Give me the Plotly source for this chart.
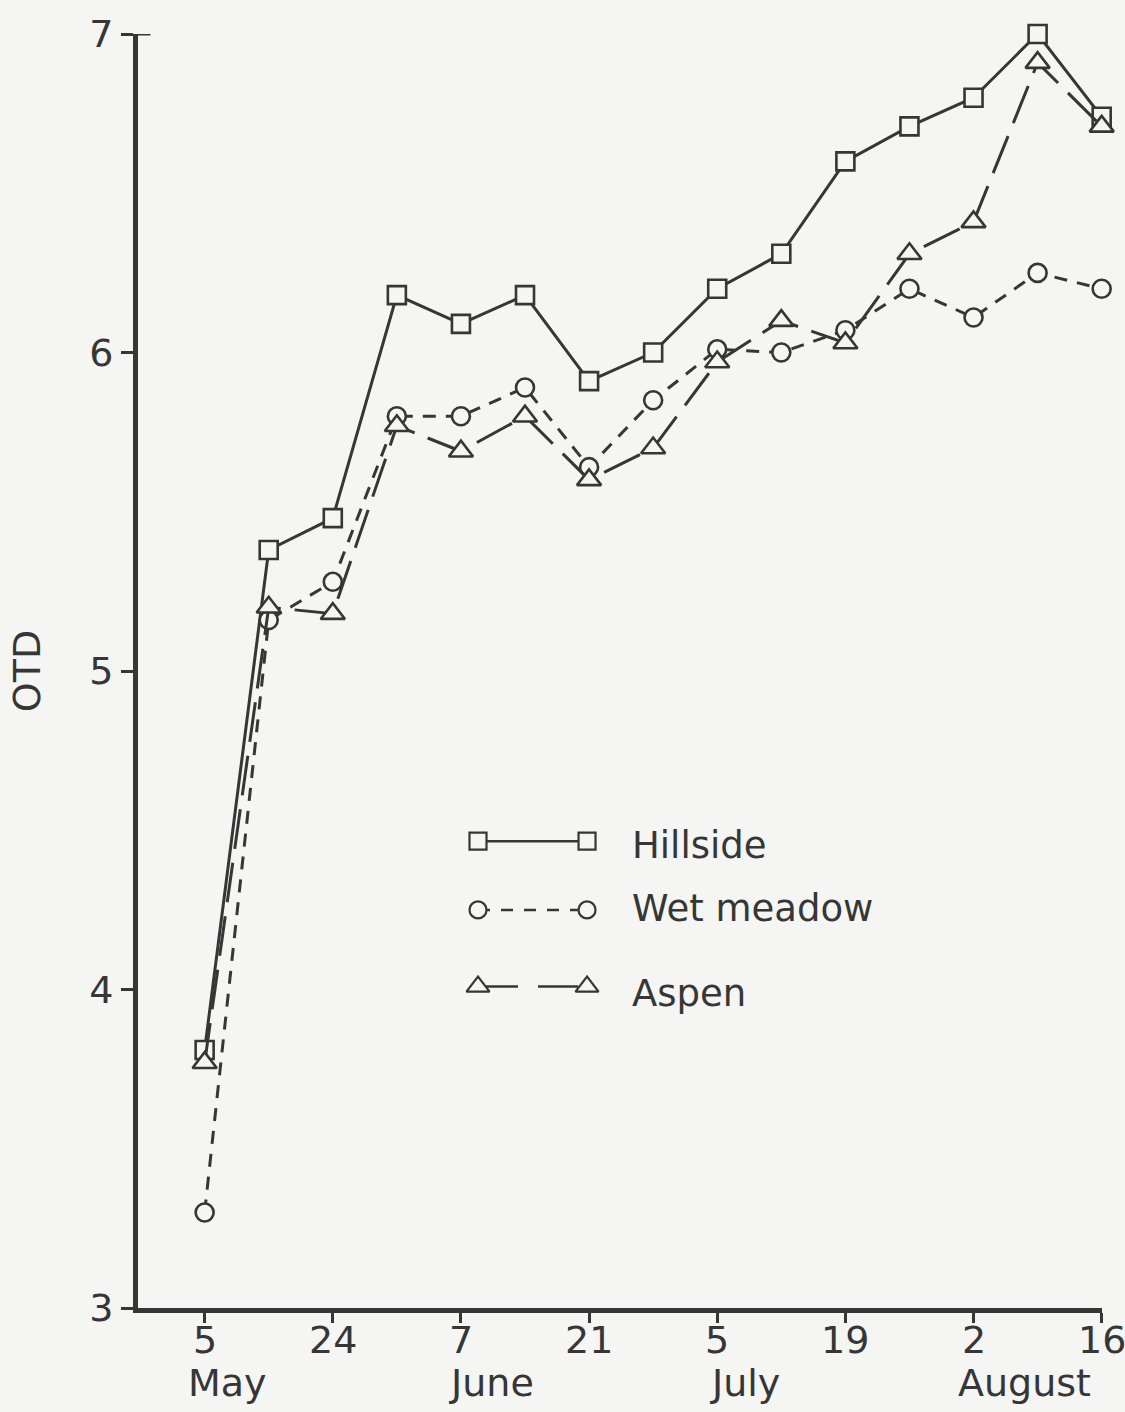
import plotly.graph_objects as go

# Sampling dates (every other one is labelled on the axis)
x_index = list(range(15))
tick_positions = [0, 2, 4, 6, 8, 10, 12, 14]
tick_labels = ["5", "24", "7", "21", "5", "19", "2", "16"]
month_names = ["May", "June", "July", "August"]
month_positions = [0.36, 4.48, 8.43, 12.8]

# OTD values per site
hillside = [3.81, 5.38, 5.48, 6.18, 6.09, 6.18, 5.91, 6.00, 6.20, 6.31, 6.60, 6.71, 6.80, 7.00, 6.74]
wet_meadow = [3.30, 5.16, 5.28, 5.80, 5.80, 5.89, 5.64, 5.85, 6.01, 6.00, 6.07, 6.20, 6.11, 6.25, 6.20]
aspen = [3.77, 5.20, 5.18, 5.77, 5.69, 5.80, 5.60, 5.70, 5.97, 6.10, 6.03, 6.31, 6.41, 6.91, 6.71]

INK = "#363636"
BG = "#f5f5f4"
FONT = "DejaVu Sans"

series = [
    ("Hillside", hillside, "square", 18, "solid"),
    ("Wet meadow", wet_meadow, "circle", 18, "13px,10px"),
    ("Aspen", aspen, "triangle-up", 21, "40px,14px"),
]
key_dashes = ["solid", "12px,11px", "40px,20px"]

fig = go.Figure()

for name, values, symbol, size, dash in series:
    fig.add_trace(go.Scatter(
        x=x_index, y=values, name=name, mode="lines+markers",
        line=dict(color=INK, width=3, dash=dash),
        marker=dict(symbol=symbol, size=size, color=BG,
                    line=dict(color=INK, width=2.6)),
        cliponaxis=False, showlegend=False,
    ))

# Key: short line with a marker at each end, drawn on an overlay axis
key_rows = [0.3664, 0.3125, 0.2523]
key_text_y = [0.3633, 0.3133, 0.2470]
for (name, values, symbol, size, dash), kd, ky, ty in zip(series, key_dashes, key_rows, key_text_y):
    fig.add_trace(go.Scatter(
        x=[0.3527, 0.4658], y=[ky, ky], mode="lines+markers",
        xaxis="x2", yaxis="y2",
        line=dict(color=INK, width=2.5, dash=kd),
        marker=dict(symbol=symbol, size=size - 1, color=BG,
                    line=dict(color=INK, width=2.2)),
        cliponaxis=False, showlegend=False, hoverinfo="skip",
    ))
    fig.add_annotation(x=0.5104, y=ty, xref="paper", yref="paper",
                       text=name, showarrow=False, xanchor="left", yanchor="middle",
                       font=dict(family=FONT, size=37, color=INK))

# Day numbers under the ticks, month names below them
for lab, pos in zip(tick_labels, tick_positions):
    fig.add_annotation(x=pos, y=-0.025, xref="x", yref="paper", text=lab,
                       showarrow=False, xanchor="center", yanchor="middle",
                       font=dict(family=FONT, size=38, color=INK))
for m, pos in zip(month_names, month_positions):
    fig.add_annotation(x=pos, y=-0.0586, xref="x", yref="paper", text=m,
                       showarrow=False, xanchor="center", yanchor="middle",
                       font=dict(family=FONT, size=38, color=INK))

fig.add_annotation(x=-0.115, y=0.5, xref="paper", yref="paper", text="OTD",
                   textangle=-90, showarrow=False, xanchor="center", yanchor="middle",
                   font=dict(family=FONT, size=38, color=INK))

# the top tick crosses the axis
fig.add_shape(type="line", xref="paper", yref="y", x0=0, x1=0.013, y0=7, y1=7,
              line=dict(color=INK, width=3))

fig.update_layout(
    width=1125, height=1412,
    margin=dict(l=138, r=23, t=28, b=104),
    paper_bgcolor=BG, plot_bgcolor=BG,
    font=dict(family=FONT, color=INK),
    xaxis=dict(range=[-1.04, 14.005], tickmode="array", tickvals=tick_positions,
               showticklabels=False, showgrid=False, zeroline=False,
               showline=True, linecolor=INK, linewidth=5,
               ticks="outside", ticklen=10, tickwidth=3, tickcolor=INK),
    yaxis=dict(range=[3, 7], tickvals=[3, 4, 5, 6, 7], showgrid=False, zeroline=False,
               showline=True, linecolor=INK, linewidth=5,
               ticks="outside", ticklen=12, tickwidth=3, tickcolor=INK,
               tickfont=dict(family=FONT, size=38, color=INK)),
    xaxis2=dict(range=[0, 1], overlaying="x", visible=False, fixedrange=True),
    yaxis2=dict(range=[0, 1], overlaying="y", visible=False, fixedrange=True),
)

fig.write_html("out.html")
